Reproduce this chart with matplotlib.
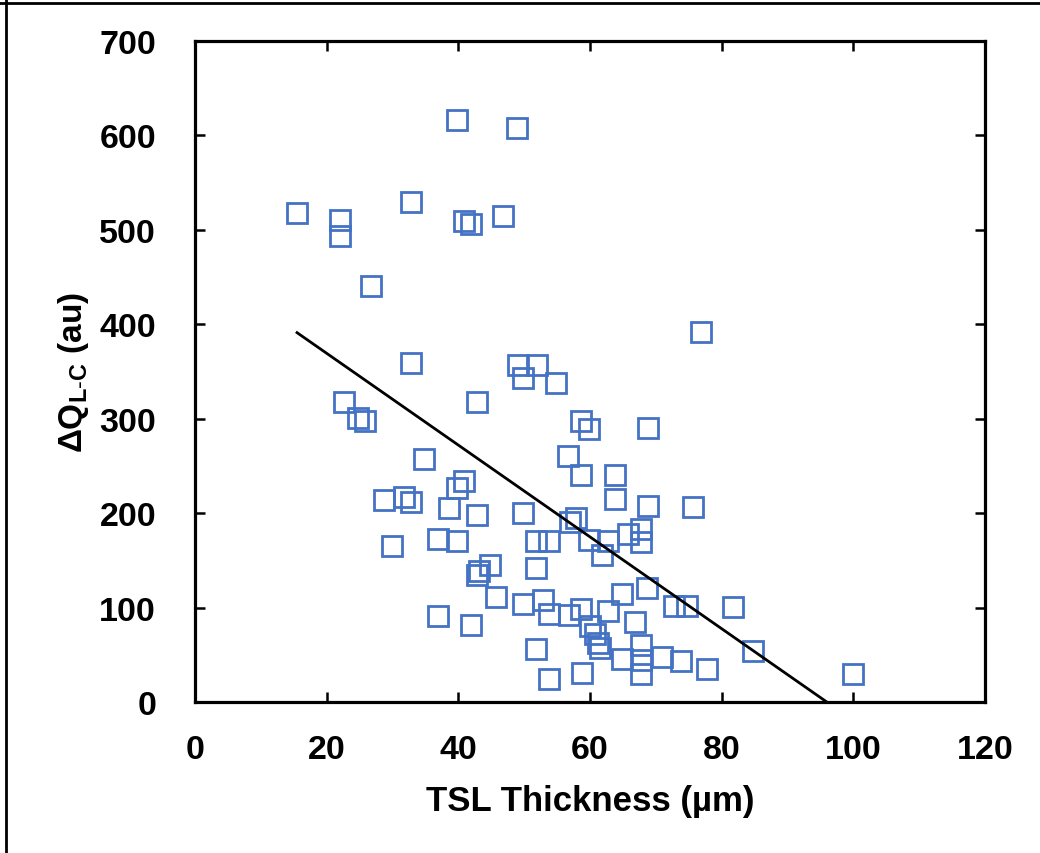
import numpy as np
import matplotlib
matplotlib.use("Agg")
import matplotlib.pyplot as plt
from matplotlib.lines import Line2D

plt.rcParams['font.family'] = ['Liberation Sans', 'DejaVu Sans']
plt.rcParams['mathtext.fontset'] = 'custom'
plt.rcParams['mathtext.rm'] = 'Liberation Sans'
plt.rcParams['mathtext.bf'] = 'Liberation Sans:bold'

# Data (TSL thickness in um, Delta Q_L-C in au)
tsl_thickness = [15.5, 22.0, 22.0, 26.7, 32.8, 39.8, 48.9, 40.8, 41.9, 46.8,
                 76.8, 32.8, 49.0, 51.9, 49.8, 54.8, 42.8, 22.6, 24.7, 25.8,
                 58.7, 59.9, 68.8, 34.8, 56.7, 58.7, 63.8, 40.8, 39.8, 28.7,
                 31.7, 32.8, 38.6, 42.8, 49.8, 63.8, 68.8, 75.7, 57.9, 56.9,
                 29.9, 36.9, 39.8, 51.8, 53.8, 59.9, 62.7, 61.8, 65.8, 67.8,
                 67.8, 44.8, 42.8, 43.2, 51.8, 45.7, 36.9, 41.9, 49.8, 52.8,
                 53.8, 56.8, 58.7, 62.8, 66.8, 60.0, 64.8, 68.7, 72.8, 74.7,
                 81.8, 60.8, 61.3, 61.6, 51.8, 67.8, 64.8, 70.9, 73.9, 67.8,
                 67.8, 77.8, 84.8, 99.9, 53.8, 58.8]
delta_q = [518, 510, 493, 441, 530, 616, 608, 509, 506, 515,
           392, 359, 357, 357, 343, 338, 318, 318, 301, 298,
           298, 289, 290, 257, 261, 240, 240, 234, 227, 214,
           217, 212, 205, 198, 200, 215, 208, 206, 195, 191,
           165, 173, 170, 170, 171, 172, 170, 156, 178, 183,
           169, 145, 134, 139, 142, 111, 91, 82, 104, 108,
           93, 92, 99, 96, 85, 81, 114, 121, 102, 102,
           101, 72, 63, 57, 56, 60, 46, 48, 43, 44,
           30, 35, 54, 30, 24, 31]

# Linear trendline
trend_slope = -4.86
trend_intercept = 466.5

x_ticks = [0, 20, 40, 60, 80, 100, 120]
y_ticks = [0, 100, 200, 300, 400, 500, 600, 700]

fig = plt.figure(figsize=(10.4, 8.54), dpi=100)
ax = fig.add_axes([0.1875, 0.1768, 0.947 - 0.1875, 0.9508 - 0.1768])

blue = '#4472C4'
ax.plot(tsl_thickness, delta_q, linestyle='none', marker='s', ms=14.0,
        mfc='none', mec=blue, mew=2.0, zorder=3)

tx = np.array([min(tsl_thickness), max(tsl_thickness)])
ax.plot(tx, trend_intercept + trend_slope * tx, color='black', lw=2.0, zorder=4)

ax.set_xlim(0, 120)
ax.set_ylim(0, 700)
ax.set_xticks(x_ticks)
ax.set_yticks(y_ticks)
ax.tick_params(direction='in', length=7, width=1.8, labelsize=24.5,
               top=True, right=True)
ax.tick_params(axis='x', pad=23)
ax.tick_params(axis='y', pad=28)
for lab in ax.get_xticklabels() + ax.get_yticklabels():
    lab.set_fontweight('bold')
for s in ax.spines.values():
    s.set_linewidth(2.3)

ax.set_xlabel('TSL Thickness (µm)', fontsize=25, fontweight='bold', labelpad=14)
ax.set_ylabel(r'ΔQ$_{\mathbf{L\text{-}C}}$ (au)', fontsize=24, fontweight='bold', labelpad=6)

# outer frame lines (top and left)
fig.add_artist(Line2D([0, 1], [1 - 4/854, 1 - 4/854], color='black', lw=2.0,
                      transform=fig.transFigure))
fig.add_artist(Line2D([6/1040, 6/1040], [0, 1], color='black', lw=2.0,
                      transform=fig.transFigure))

fig.savefig('out.png', dpi=100)
